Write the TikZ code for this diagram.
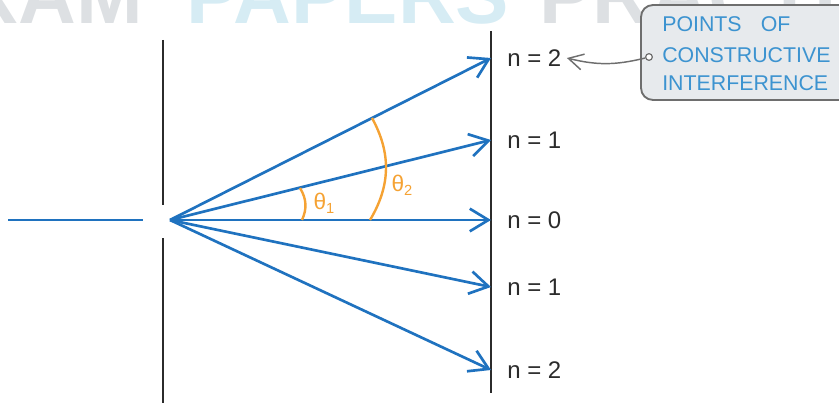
\documentclass[tikz,border=0pt]{standalone}
\usepackage{fontspec}
\setmainfont{Liberation Sans}
\usetikzlibrary{arrows.meta}
\definecolor{raycol}{HTML}{1F72BF}
\definecolor{angcol}{HTML}{F5A233}
\definecolor{inkcol}{HTML}{2B2B2B}
\definecolor{notecol}{HTML}{3C93D0}
\definecolor{boxfill}{HTML}{E7EAED}
\definecolor{boxline}{HTML}{6E6E6E}
\definecolor{wmgray}{HTML}{DDE0E3}
\definecolor{wmblue}{HTML}{D6ECF4}
\tikzset{
  raystyle/.style={draw=raycol, line width=2pt, -{Straight Barb[length=14pt,width=17pt,line width=2pt]}},
  inray/.style={draw=raycol, line width=2pt},
  wall/.style={draw=inkcol, line width=2.2pt},
  angarc/.style={draw=angcol, line width=1.8pt},
  nlabel/.style={anchor=west, font=\fontsize{18}{20}\selectfont, text=inkcol, inner sep=0pt},
  thlabel/.style={font=\fontsize{17}{19}\selectfont, text=angcol, inner sep=0pt},
  notetext/.style={anchor=base west, font=\fontsize{16}{18}\selectfont, text=notecol, inner sep=0pt},
  wmtext/.style={anchor=base west, font=\fontsize{60}{64}\selectfont\bfseries, inner sep=0pt},
}
\begin{document}
\begin{tikzpicture}[x=0.75pt, y=-0.75pt]
\useasboundingbox (0,0) rectangle (839,403);
% watermark
\begin{scope}
\clip (0,0) rectangle (839,403);
\node[wmtext, text=wmgray, anchor=base east] (wm1) at (143,24) {EXAM};
\node[wmtext, text=wmblue] (wm2) at (186,24) {PAPERS};
\node[wmtext, text=wmgray] (wm3) at (539,24) {PRACTICE};
\end{scope}
% coordinates
\coordinate (src) at (170,220);
\coordinate (inA) at (8,220);
\coordinate (inB) at (143,220);
\coordinate (b1) at (163,40);
\coordinate (b2) at (163,205);
\coordinate (b3) at (163,238);
\coordinate (b4) at (163,403);
\coordinate (s1) at (491,31);
\coordinate (s2) at (491,393);
\coordinate (p2u) at (491,58);
\coordinate (p1u) at (491,140);
\coordinate (p0) at (491,220);
\coordinate (p1d) at (491,287);
\coordinate (p2d) at (491,370);
% walls
\draw[wall] (b1) -- (b2);
\draw[wall] (b3) -- (b4);
\draw[wall] (s1) -- (s2);
% rays
\draw[inray] (inA) -- (inB);
\draw[raystyle] (src) -- (p2u);
\draw[raystyle] (src) -- (p1u);
\draw[raystyle] (src) -- (p0);
\draw[raystyle] (src) -- (p1d);
\draw[raystyle] (src) -- (p2d);
% angles
\coordinate (a1s) at (302,220);
\coordinate (a1e) at (300,188);
\coordinate (a2s) at (370,220);
\coordinate (a2e) at (372,118);
\draw[angarc] (a1s) to[bend right=28] (a1e);
\draw[angarc] (a2s) to[bend right=30] (a2e);
\node[thlabel] (th1) at (324,203) {θ\raisebox{-0.35ex}{\fontsize{11}{12}\selectfont 1}};
\node[thlabel] (th2) at (402,185) {θ\raisebox{-0.35ex}{\fontsize{11}{12}\selectfont 2}};
% labels
\node[nlabel] (n2u) at (507,58) {n = 2};
\node[nlabel] (n1u) at (507,140) {n = 1};
\node[nlabel] (n0) at (507,220) {n = 0};
\node[nlabel] (n1d) at (507,287) {n = 1};
\node[nlabel] (n2d) at (507,370) {n = 2};
% callout
\draw[draw=boxline, fill=boxfill, line width=1.4pt, rounded corners=9pt] (641,5) rectangle (870,100);
\node[notetext] (c1) at (662,32) {POINTS\hspace{0.9em}OF};
\node[notetext] (c2) at (662,63) {CONSTRUCTIVE};
\node[notetext] (c3) at (662,91) {INTERFERENCE};
\node[circle, draw=boxline, fill=white, line width=0.9pt, inner sep=0pt, minimum size=5pt] (cdot) at (649,57) {};
\draw[draw=boxline, line width=1.1pt, -{Straight Barb[length=11pt,width=12pt,line width=1.1pt]}] (cdot) to[bend left=14] ([xshift=4pt]n2u.east);
\end{tikzpicture}
\end{document}
